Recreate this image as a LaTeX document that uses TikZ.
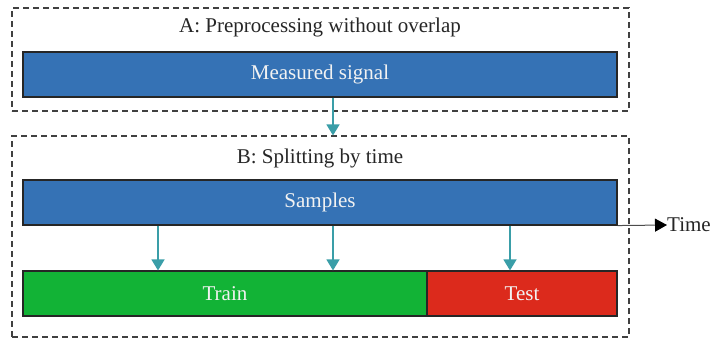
\documentclass[tikz,border=0pt]{standalone}
\usepackage{fontspec}
\setmainfont{Liberation Serif}
\usepackage{tikz}
\usetikzlibrary{arrows.meta}
\usepackage{xcolor}

\definecolor{barblue}{HTML}{3572B5}
\definecolor{bargreen}{HTML}{12B336}
\definecolor{barred}{HTML}{DC2A1C}
\definecolor{flowteal}{HTML}{3A9EA8}

\begin{document}
\begin{tikzpicture}[
    x=1pt, y=-1pt,
    every node/.style={font=\fontsize{21}{24}\selectfont},
    stage/.style={rectangle, draw=black!75, dash pattern=on 6pt off 4pt, line width=1.1pt, inner sep=0pt},
    bar/.style={rectangle, draw=black!85, line width=1.1pt, text=white!95!black, minimum height=45pt, inner sep=0pt},
    flow/.style={-{Triangle[length=11pt, width=13pt]}, draw=flowteal, line width=1.4pt},
    axis/.style={-{Triangle[length=12pt, width=13pt, fill=black, color=black]}, draw=black!70, line width=1pt},
]
\useasboundingbox (0,0) rectangle (714,343);

% Part A
\node[stage, minimum width=617pt, minimum height=103pt] (stageA) at (320.5,59.5) {};
\node[text=black!85] (titleA) at (320,27) {A: Preprocessing without overlap};
\node[bar, fill=barblue, minimum width=594pt] (signal) at (320,74.5) {Measured signal};

% Part B
\node[stage, minimum width=617pt, minimum height=201pt] (stageB) at (320.5,236.5) {};
\node[text=black!85] (titleB) at (320,158) {B: Splitting by time};
\node[bar, fill=barblue, minimum width=594pt] (samples) at (320,202.5) {Samples};
\node[bar, fill=bargreen, minimum width=404pt] (train) at (225,293.5) {Train};
\node[bar, fill=barred, minimum width=190pt] (test) at (522,293.5) {Test};
\node[anchor=west, inner sep=0pt, text=black!85] (timelbl) at (667,225) {Time};

% Arrows
\draw[flow] (333,0 |- signal.south) -- (333,0 |- stageB.north);
\foreach \x in {158,333,510}
  \draw[flow] (\x,0 |- samples.south) -- (\x,0 |- train.north);
\draw[axis] (samples.south east) -- (timelbl.west);

\end{tikzpicture}
\end{document}
